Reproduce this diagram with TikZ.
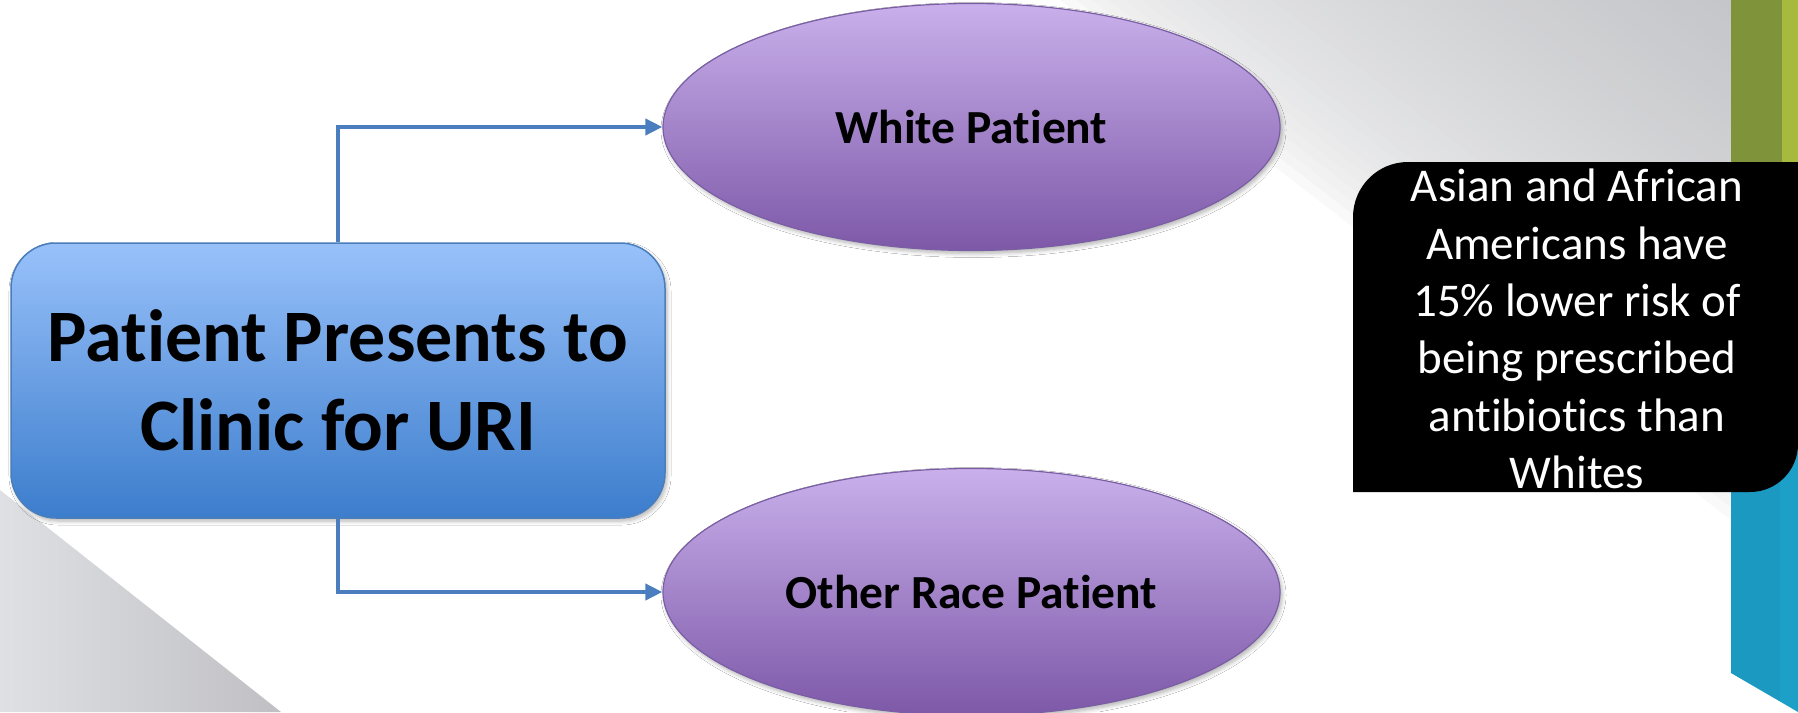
\documentclass[tikz,border=0pt]{standalone}
\usepackage{fontspec}
\setmainfont{Carlito}[Ligatures={NoCommon,NoContextual}]
\usetikzlibrary{arrows.meta,shapes.geometric,shadows.blur}

\definecolor{rectTop}{RGB}{152,193,250}
\definecolor{rectBot}{RGB}{60,125,204}
\definecolor{rectEdge}{RGB}{74,126,187}
\definecolor{ellTop}{RGB}{201,176,235}
\definecolor{ellBot}{RGB}{125,88,168}
\definecolor{ellEdge}{RGB}{122,94,164}
\definecolor{connBlue}{RGB}{74,126,190}
\definecolor{bgGray}{RGB}{197,198,201}
\definecolor{triLight}{RGB}{223,224,227}
\definecolor{triDark}{RGB}{192,192,196}
\definecolor{barGreenDark}{RGB}{127,148,58}
\definecolor{barGreenLight}{RGB}{165,186,62}
\definecolor{barBlueDark}{RGB}{27,153,192}
\definecolor{barBlueLight}{RGB}{29,160,200}

\begin{document}
\begin{tikzpicture}[x=1pt,y=1pt,
  softshadow/.style={blur shadow={shadow xshift=2pt, shadow yshift=-3pt,
      shadow blur radius=4pt, shadow blur steps=6, shadow opacity=30}},
  clinicbox/.style={rectangle, rounded corners=45pt, minimum width=654pt,
      minimum height=275pt, inner sep=0pt, draw=rectEdge, line width=1.5pt,
      top color=rectTop, bottom color=rectBot, align=center,
      font=\bfseries\fontsize{74}{89}\selectfont, softshadow},
  patient/.style={ellipse, minimum width=617pt, minimum height=247pt,
      inner sep=0pt, draw=ellEdge, line width=1.2pt,
      top color=ellTop, bottom color=ellBot,
      font=\bfseries\fontsize{47.5}{57}\selectfont, softshadow},
  conn/.style={draw=connBlue, line width=3.8pt,
      -{Triangle[length=17pt,width=16pt]}},
  notetext/.style={text=white, align=center, inner sep=0pt,
      font=\fontsize{47}{57.4}\selectfont}]

\useasboundingbox (0,0) rectangle (1798,-712);
\fill[white] (0,0) rectangle (1798,-712);

% grey wedge in the upper right, fading towards its diagonal edge
\begin{scope}
  \clip (1060,0) -- (1798,0) -- (1798,-572) -- cycle;
  \foreach \i in {0,...,41}{
    \pgfmathsetmacro\a{10*\i}
    \pgfmathsetmacro\b{10*\i+11}
    \pgfmathsetmacro\pct{100*sqrt(min(1,(\i+0.5)/41))}
    \fill[bgGray!\pct!white]
      ({1060+0.6126*\a-790.4},{0.7904*\a+612.6}) --
      ({1060+0.6126*\a+790.4},{0.7904*\a-612.6}) --
      ({1060+0.6126*\b+790.4},{0.7904*\b-612.6}) --
      ({1060+0.6126*\b-790.4},{0.7904*\b+612.6}) -- cycle;
  }
\end{scope}

% grey wedge in the lower left
\shade[left color=triLight, right color=triDark]
  (0,-490) -- (281,-712) -- (0,-712) -- cycle;

% coloured bars on the right edge
\fill[barGreenDark]  (1731,0) rectangle (1782,-300);
\fill[barGreenLight] (1782,0) rectangle (1798,-300);
\fill[barBlueDark]  (1731,-300) -- (1780,-300) -- (1780,-701.5) -- (1731,-673) -- cycle;
\fill[barBlueLight] (1780,-300) -- (1798,-300) -- (1798,-712) -- (1780,-701.5) -- cycle;

% flow chart
\node[clinicbox] (clinic) at (338,-380.5) {Patient Presents to\\Clinic for URI};
\node[patient] (white) at (971.5,-127) {White Patient};
\node[patient] (other) at (971.5,-592) {Other Race Patient};

\draw[conn] (clinic.north) |- (white.west);
\draw[conn] (clinic.south) |- (other.west);

% note box with two rounded corners
\fill[black] (1353,-492) -- (1353,-217)
  arc[start angle=180, end angle=90, radius=55] -- (1798,-162)
  -- (1798,-444) arc[start angle=0, end angle=-90, radius=48] -- cycle;
\node[notetext] (note) at (1577,-329) {Asian and African\\Americans have\\15\% lower risk of\\being prescribed\\antibiotics than\\Whites};

\end{tikzpicture}
\end{document}
